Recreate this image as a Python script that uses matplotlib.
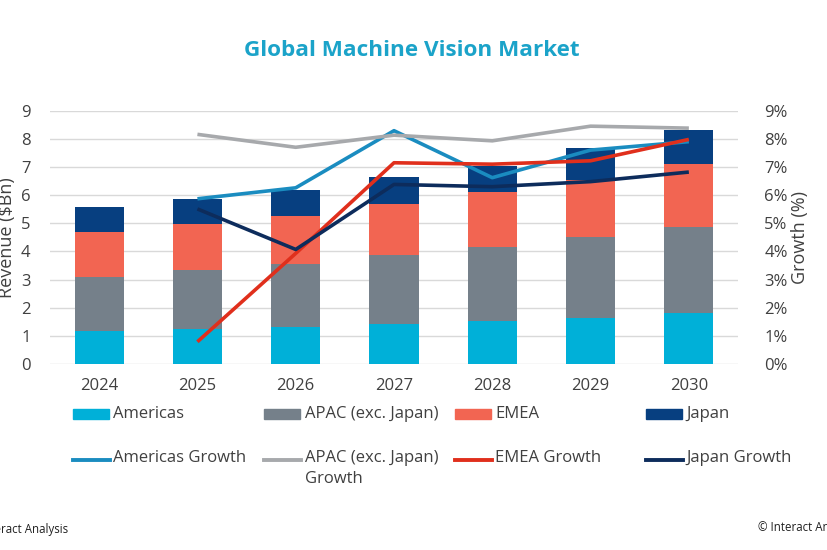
import matplotlib
matplotlib.use("Agg")
import matplotlib.pyplot as plt
from matplotlib.patches import Rectangle
from matplotlib.lines import Line2D
from matplotlib.ticker import FuncFormatter
import numpy as np

plt.rcParams['font.family'] = ['Open Sans', 'DejaVu Sans']

years = ["2024", "2025", "2026", "2027", "2028", "2029", "2030"]
americas = [1.18, 1.24, 1.33, 1.43, 1.54, 1.64, 1.80]
apac = [1.92, 2.09, 2.23, 2.44, 2.62, 2.87, 3.08]
emea = [1.60, 1.63, 1.70, 1.81, 1.94, 2.03, 2.22]
japan = [0.87, 0.89, 0.92, 0.97, 0.95, 1.14, 1.21]

growth_years = ["2025", "2026", "2027", "2028", "2029", "2030"]
americas_growth = [5.87, 6.26, 8.29, 6.62, 7.60, 7.90]
apac_growth = [8.16, 7.70, 8.13, 7.93, 8.45, 8.38]
emea_growth = [0.79, 3.93, 7.15, 7.10, 7.22, 7.98]
japan_growth = [5.51, 4.07, 6.38, 6.30, 6.48, 6.82]

bar_series = [("Americas", americas, "#00b0d8"),
              ("APAC (exc. Japan)", apac, "#75808a"),
              ("EMEA", emea, "#f26552"),
              ("Japan", japan, "#073f80")]
line_series = [("Americas Growth", americas_growth, "#1a8cc0"),
               ("APAC (exc. Japan)\nGrowth", apac_growth, "#a7a9ac"),
               ("EMEA Growth", emea_growth, "#e02f1c"),
               ("Japan Growth", japan_growth, "#0d2c5c")]

W, H = 828, 550
fig = plt.figure(figsize=(W / 100, H / 100), dpi=100)
ax = fig.add_axes([50 / W, 1 - 364 / H, (738 - 50) / W, (364 - 110.7) / H])

x = np.arange(len(years))
bottom = np.zeros(len(years))
for name, vals, col in bar_series:
    ax.bar(x, vals, 0.5, bottom=bottom, color=col, zorder=2)
    bottom += np.array(vals)

ax.set_xlim(-0.5, len(years) - 0.5)
ax.set_ylim(0, 9)
ax.set_yticks(range(0, 10))
ax.set_xticks(x)
ax.set_xticklabels(years)
ax.grid(axis='y', color='#d9d9d9', lw=1, zorder=0)
ax.set_axisbelow(True)
for s in ax.spines.values():
    s.set_visible(False)
ax.tick_params(axis='both', length=0, labelsize=12, colors='#404040')
ax.tick_params(axis='y', pad=14)
ax.tick_params(axis='x', pad=10)
ax.set_ylabel("Revenue ($Bn)", fontsize=13, color='#404040')
ax.yaxis.set_label_coords(-0.049, 0.5)

ax2 = ax.twinx()
gx = [years.index(y) for y in growth_years]
for name, vals, col in line_series:
    ax2.plot(gx, vals, color=col, lw=2.6, solid_capstyle='butt', zorder=3)
ax2.set_ylim(0, 9)
ax2.set_yticks(range(0, 10))
ax2.yaxis.set_major_formatter(FuncFormatter(lambda v, p: f"{v:.0f}%"))
for s in ax2.spines.values():
    s.set_visible(False)
ax2.tick_params(axis='y', length=0, labelsize=12, colors='#404040', pad=19)
ax2.set_ylabel("Growth (%)", fontsize=13, color='#404040')
ax2.yaxis.set_label_coords(1.077, 0.5)

fig.text(412 / W, 1 - 50 / H, "Global Machine Vision Market", ha='center', va='center',
         fontsize=16.2, fontweight='bold', color='#1ba3c9')

# legend (manual layout)
patch_x = [73, 264, 455, 646]
text_x = [113, 305, 495, 686]
for i, (name, vals, col) in enumerate(bar_series):
    fig.patches.append(Rectangle((patch_x[i] / W, 1 - 419 / H), 36 / W, 10 / H,
                                 transform=fig.transFigure, color=col))
    fig.text(text_x[i] / W, 1 - 414 / H, name, ha='left', va='center',
             fontsize=12, color='#404040')
for i, (name, vals, col) in enumerate(line_series):
    fig.lines.append(Line2D([patch_x[i] / W, (patch_x[i] + 37) / W], [1 - 460 / H, 1 - 460 / H],
                            transform=fig.transFigure, color=col, lw=2.8))
    fig.text(text_x[i] / W, 1 - 450 / H, name, ha='left', va='top',
             fontsize=12, color='#404040', linespacing=1.45)

fig.text(68 / W, 1 - 530 / H, "Interact Analysis", ha='right', va='center',
         fontsize=8.3, color='#202020')
fig.text(758 / W, 1 - 528 / H, "© Interact Analysis", ha='left', va='center',
         fontsize=8.3, color='#202020')

fig.savefig("out.png", dpi=100)
